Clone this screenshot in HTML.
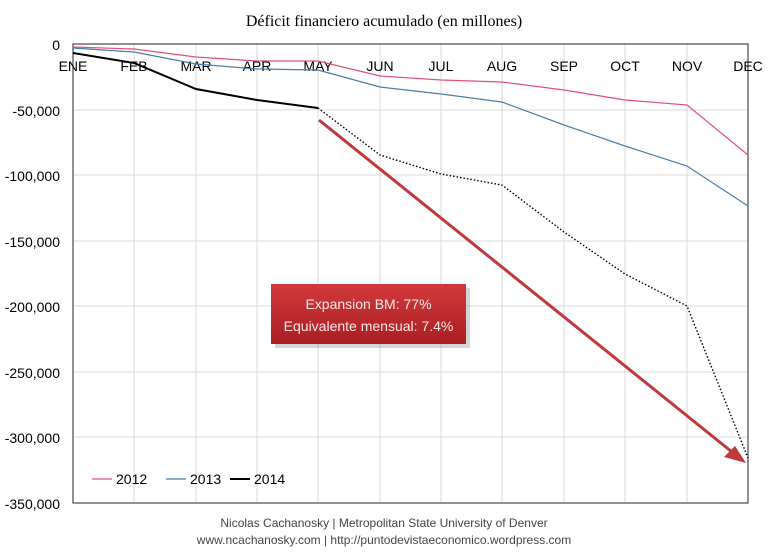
<!DOCTYPE html>
<html><head><meta charset="utf-8"><style>
body{margin:0;background:#fff;}
svg{display:block;font-family:"Liberation Sans",sans-serif;}
</style></head><body>
<svg width="768" height="558" viewBox="0 0 768 558" xmlns="http://www.w3.org/2000/svg">
<defs>
<linearGradient id="rg" x1="0" y1="0" x2="0" y2="1"><stop offset="0" stop-color="#d2393c"/><stop offset="1" stop-color="#a91f22"/></linearGradient>
</defs>
<text x="384" y="26" font-family="Liberation Serif,serif" font-size="16" text-anchor="middle" fill="#000">Déficit financiero acumulado (en millones)</text>
<g stroke="#d9d9d9" stroke-width="1">
<line x1="73" y1="110" x2="748" y2="110"/><line x1="73" y1="175" x2="748" y2="175"/><line x1="73" y1="241" x2="748" y2="241"/><line x1="73" y1="306" x2="748" y2="306"/><line x1="73" y1="372" x2="748" y2="372"/><line x1="73" y1="437" x2="748" y2="437"/>
<line x1="134" y1="44" x2="134" y2="503"/><line x1="196" y1="44" x2="196" y2="503"/><line x1="257" y1="44" x2="257" y2="503"/><line x1="318" y1="44" x2="318" y2="503"/><line x1="380" y1="44" x2="380" y2="503"/><line x1="441" y1="44" x2="441" y2="503"/><line x1="502" y1="44" x2="502" y2="503"/><line x1="564" y1="44" x2="564" y2="503"/><line x1="625" y1="44" x2="625" y2="503"/><line x1="687" y1="44" x2="687" y2="503"/>
</g>
<rect x="73" y="44" width="675" height="459" fill="none" stroke="#555" stroke-width="1.3"/>
<g font-size="14" fill="#000" text-anchor="end">
<text x="60" y="50">0</text><text x="60" y="116">-50,000</text><text x="60" y="181">-100,000</text><text x="60" y="247">-150,000</text><text x="60" y="312">-200,000</text><text x="60" y="378">-250,000</text><text x="60" y="443">-300,000</text><text x="60" y="509">-350,000</text>
</g>
<g font-size="14" fill="#000" text-anchor="middle">
<text x="73" y="71">ENE</text><text x="134" y="71">FEB</text><text x="196" y="71">MAR</text><text x="257" y="71">APR</text><text x="318" y="71">MAY</text><text x="380" y="71">JUN</text><text x="441" y="71">JUL</text><text x="502" y="71">AUG</text><text x="564" y="71">SEP</text><text x="625" y="71">OCT</text><text x="687" y="71">NOV</text><text x="748" y="71">DEC</text>
</g>
<polyline fill="none" stroke="#e0517a" stroke-width="1.2" points="73,47 134,49 196,57 257,61 318,61 380,76 441,80 502,82 564,90 625,100 687,105 748,155"/>
<polyline fill="none" stroke="#4a7ea8" stroke-width="1.2" points="73,48 134,52 196,64 257,69 318,70 380,87 441,94 502,102 564,125 625,146 687,166 748,206"/>
<polyline fill="none" stroke="#000" stroke-width="2" points="73,53 134,63 196,89 257,100 318,108"/>
<polyline fill="none" stroke="#000" stroke-width="1.4" stroke-dasharray="1.5,2" points="318,108 380,155 441,174 502,185 564,232 625,274 687,306 748,458"/>
<line x1="319" y1="120" x2="737" y2="456" stroke="#c0393c" stroke-width="3"/>
<polygon points="746,463 724,457 735,446" fill="#c0393c"/>
<rect x="273" y="286" width="195" height="60" fill="#888" opacity="0.35" transform="translate(2,2)"/>
<rect x="271" y="284" width="195" height="60" fill="url(#rg)"/>
<text x="368.5" y="309" font-size="14" fill="#fbe9e9" text-anchor="middle">Expansion BM: 77%</text>
<text x="368.5" y="331" font-size="14" fill="#fbe9e9" text-anchor="middle">Equivalente mensual: 7.4%</text>
<g font-size="14" fill="#000">
<line x1="92" y1="479" x2="112" y2="479" stroke="#e0517a" stroke-width="1.3"/><text x="116" y="484">2012</text>
<line x1="166" y1="479" x2="186" y2="479" stroke="#4a7ea8" stroke-width="1.3"/><text x="190" y="484">2013</text>
<line x1="230" y1="479" x2="250" y2="479" stroke="#000" stroke-width="2"/><text x="254" y="484">2014</text>
</g>
<text x="384" y="527" font-size="12" fill="#444" text-anchor="middle">Nicolas Cachanosky | Metropolitan State University of Denver</text>
<text x="384" y="544" font-size="12" fill="#444" text-anchor="middle">www.ncachanosky.com | http://puntodevistaeconomico.wordpress.com</text>
</svg>
</body></html>
